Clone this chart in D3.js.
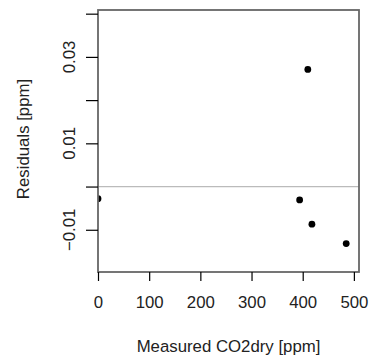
<!DOCTYPE html>
<html><head><meta charset="utf-8">
<script src="https://cdn.jsdelivr.net/npm/d3@7"></script>
<style>body{margin:0;background:#fff}svg{display:block}</style>
</head><body>
<script>
const measured = [0, 394, 410, 418, 485];
const residuals = [-0.0028, -0.0031, 0.0271, -0.0087, -0.0132];
const xTicks = [0, 100, 200, 300, 400, 500];
const yTicks = [-0.01, 0, 0.01, 0.02, 0.03, 0.04];
const yLabelTicks = [-0.01, 0.01, 0.03];

const W = 369, H = 356;
const L = 98, R = 359, T = 10, B = 272;
const svg = d3.select("body").append("svg").attr("width", W).attr("height", H);
const x = d3.scaleLinear().domain([0, 510]).range([L, R]);
const y = d3.scaleLinear().domain([-0.01977, 0.04085]).range([B, T]);
const font = "Liberation Sans, Arial, sans-serif";
const fs = 16.8;

svg.append("defs").append("clipPath").attr("id", "clip")
  .append("rect").attr("x", L).attr("y", T).attr("width", R - L).attr("height", B - T);

// zero line
svg.append("line").attr("x1", L).attr("x2", R).attr("y1", y(0)).attr("y2", y(0))
  .attr("stroke", "#bbb").attr("stroke-width", 1.2);

// points
svg.append("g").attr("clip-path", "url(#clip)").selectAll("circle")
  .data(measured.map((m, i) => [m, residuals[i]]))
  .join("circle").attr("cx", d => x(d[0])).attr("cy", d => y(d[1])).attr("r", 3.4).attr("fill", "#000");

// box
svg.append("rect").attr("x", L).attr("y", T).attr("width", R - L).attr("height", B - T)
  .attr("fill", "none").attr("stroke", "#666").attr("stroke-width", 1.8);

// y axis
const yAx = svg.append("g").attr("transform", `translate(${L},0)`)
  .call(d3.axisLeft(y).tickValues(yTicks).tickSize(12).tickFormat(""));
yAx.select(".domain").remove();
yAx.selectAll("line").attr("stroke", "#000").attr("stroke-width", 1.2);
svg.append("g").selectAll("text").data(yLabelTicks).join("text")
  .attr("transform", d => `translate(75,${y(d)}) rotate(-90)`)
  .attr("text-anchor", "middle").attr("font-family", font).attr("font-size", fs)
  .attr("fill", "#222").text(d => d3.format(".2f")(d));

// x axis
const xAx = svg.append("g").attr("transform", `translate(0,${B})`)
  .call(d3.axisBottom(x).tickValues(xTicks).tickSize(9).tickFormat(d3.format("d")));
xAx.select(".domain").remove();
xAx.selectAll("line").attr("stroke", "#000").attr("stroke-width", 1.2);
xAx.selectAll("text").attr("font-family", font).attr("font-size", fs).attr("fill", "#222")
  .attr("y", 0).attr("dy", 0).attr("transform", "translate(0,36)");

// titles
svg.append("text").attr("x", (L + R) / 2).attr("y", 352).attr("text-anchor", "middle")
  .attr("font-family", font).attr("font-size", fs).attr("fill", "#222").text("Measured CO2dry [ppm]");
svg.append("text").attr("transform", `translate(29,139) rotate(-90)`).attr("text-anchor", "middle")
  .attr("font-family", font).attr("font-size", fs).attr("fill", "#222").text("Residuals [ppm]");
</script>
</body></html>
